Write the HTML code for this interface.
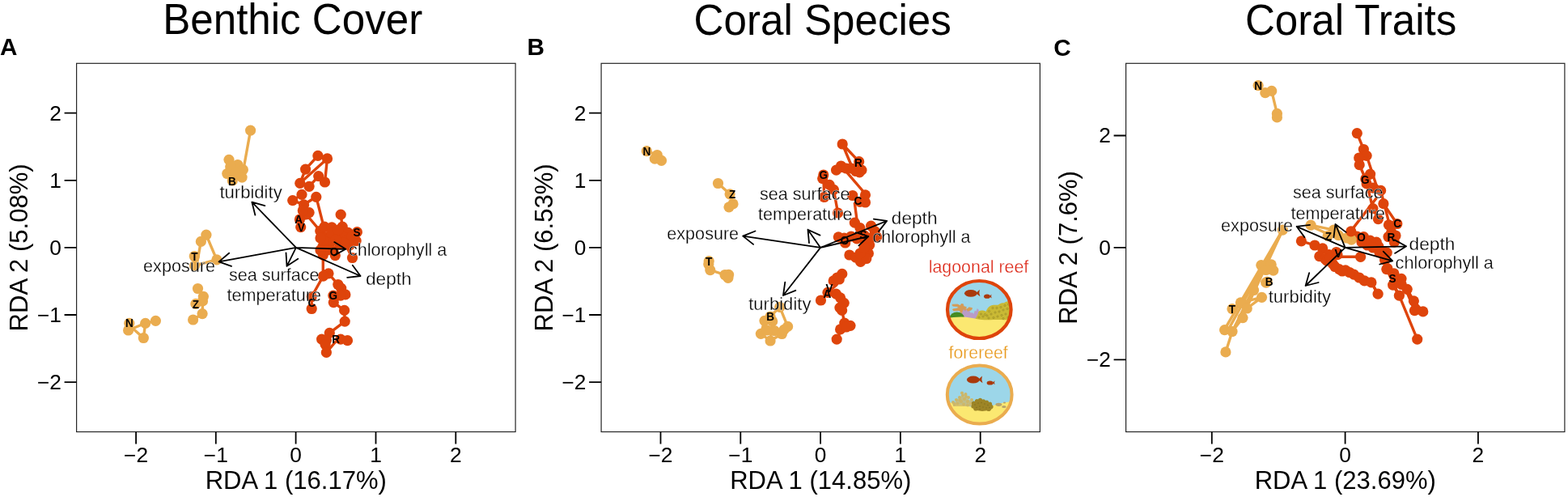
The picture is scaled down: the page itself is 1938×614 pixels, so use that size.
<!DOCTYPE html>
<html lang="en">
<head>
<meta charset="utf-8">
<title>RDA ordination: Benthic Cover, Coral Species, Coral Traits</title>
<style>
html,body{margin:0;padding:0;background:#fff;}
body{width:1938px;height:614px;overflow:hidden;}
svg{display:block;font-family:"Liberation Sans", sans-serif;}
.ttl{font-size:54.3px;fill:#000;text-anchor:middle;}
.pl{font-size:30px;font-weight:bold;fill:#000;}
.ax{font-size:32px;fill:#000;text-anchor:middle;}
.tk{font-size:25.3px;fill:#000;}
.lb{font-size:21.6px;fill:#000;stroke:#fff;stroke-width:0.3px;}
.st{font-size:14px;font-weight:bold;fill:#000;text-anchor:middle;}
.box{fill:none;stroke:#262626;stroke-width:1.2;}
.tick{stroke:#000;stroke-width:1.8;fill:none;}
.ar{stroke:#000;stroke-width:1.8;fill:none;stroke-linecap:round;stroke-linejoin:round;}
.lo{stroke:#DE440B;fill:none;stroke-width:3.4;stroke-linecap:round;stroke-linejoin:round;}
.ly{stroke:#EAAC4F;fill:none;stroke-width:3.4;stroke-linecap:round;stroke-linejoin:round;}
.po{fill:#DE440B;}
.py{fill:#EAAC4F;}
</style>
</head>
<body>
<svg width="1938" height="614" viewBox="0 0 1938 614">
<rect width="1938" height="614" fill="#fff"/>
<g>
<text class="ttl" transform="translate(361.7 42.3) scale(0.9416 1)">Benthic Cover</text>
<text class="pl" transform="translate(0.1 68.4) scale(0.99 1)">A</text>
<path class="lo" d="M370.8 226.3L377.6 209.1L392.9 192.4L404.5 195.9L370.8 226.3"/>
<path class="lo" d="M404.5 195.9L401.5 225L393.7 217.6L382.1 230.3L370.8 226.3"/>
<path class="lo" d="M373 240.4L361.7 247.6L375.6 252.8L390.8 243.3L399 275.6L401 280.2"/>
<path class="lo" d="M375.6 252.8L374.3 260L382.1 262.6L370.4 271L382 269L395.8 285.4"/>
<path class="lo" d="M421.2 265.2L423.2 280.2"/>
<path class="lo" d="M427.3 302.6L435.5 318.5"/>
<path class="lo" d="M399.3 305L399.3 340.4"/>
<path class="lo" d="M399.5 341.1L385.2 366.5L385.2 381.5"/>
<path class="lo" d="M406 337.8L417.8 351.5L426.9 363.9L412.3 373.6L425.6 383.4L426.2 397.1L407.3 411.3L397.6 419.1L403.4 435.4L415 422L429.5 420.7"/>
<circle class="po" cx="392.9" cy="192.4" r="6.6"/>
<circle class="po" cx="404.5" cy="195.9" r="6.6"/>
<circle class="po" cx="377.6" cy="209.1" r="6.6"/>
<circle class="po" cx="393.7" cy="217.6" r="6.6"/>
<circle class="po" cx="401.5" cy="225" r="6.6"/>
<circle class="po" cx="370.8" cy="226.3" r="6.6"/>
<circle class="po" cx="382.1" cy="230.3" r="6.6"/>
<circle class="po" cx="373" cy="240.4" r="6.6"/>
<circle class="po" cx="390.8" cy="243.3" r="6.6"/>
<circle class="po" cx="361.7" cy="247.6" r="6.6"/>
<circle class="po" cx="375.6" cy="252.8" r="6.6"/>
<circle class="po" cx="382.1" cy="262.6" r="6.6"/>
<circle class="po" cx="374.3" cy="260" r="6.6"/>
<circle class="po" cx="370.4" cy="271" r="6.6"/>
<circle class="po" cx="371.7" cy="280.6" r="6.6"/>
<circle class="po" cx="421.2" cy="265.2" r="6.6"/>
<circle class="po" cx="395.8" cy="285.4" r="6.6"/>
<circle class="po" cx="401" cy="280.2" r="6.6"/>
<circle class="po" cx="410.1" cy="280.8" r="6.6"/>
<circle class="po" cx="423.2" cy="280.2" r="6.6"/>
<circle class="po" cx="430.3" cy="287.3" r="6.6"/>
<circle class="po" cx="441.4" cy="286.7" r="6.6"/>
<circle class="po" cx="440.1" cy="297.5" r="6.6"/>
<circle class="po" cx="403" cy="292.5" r="6.6"/>
<circle class="po" cx="416" cy="290" r="6.6"/>
<circle class="po" cx="423.8" cy="292.5" r="6.6"/>
<circle class="po" cx="399" cy="304.3" r="6.6"/>
<circle class="po" cx="399.3" cy="315" r="6.6"/>
<circle class="po" cx="414.3" cy="315.6" r="6.6"/>
<circle class="po" cx="435.5" cy="318.5" r="6.6"/>
<circle class="po" cx="408" cy="300" r="6.6"/>
<circle class="po" cx="420" cy="302" r="6.6"/>
<circle class="po" cx="412" cy="310" r="6.6"/>
<circle class="po" cx="406" cy="337.8" r="6.6"/>
<circle class="po" cx="399.5" cy="341.1" r="6.6"/>
<circle class="po" cx="417.8" cy="351.5" r="6.6"/>
<circle class="po" cx="421.7" cy="356.1" r="6.6"/>
<circle class="po" cx="426.9" cy="363.9" r="6.6"/>
<circle class="po" cx="421" cy="365.2" r="6.6"/>
<circle class="po" cx="412.3" cy="373.6" r="6.6"/>
<circle class="po" cx="411.9" cy="365.2" r="6.6"/>
<circle class="po" cx="385.2" cy="366.5" r="6.6"/>
<circle class="po" cx="385.2" cy="381.5" r="6.6"/>
<circle class="po" cx="425.6" cy="383.4" r="6.6"/>
<circle class="po" cx="426.2" cy="397.1" r="6.6"/>
<circle class="po" cx="407.3" cy="411.3" r="6.6"/>
<circle class="po" cx="397.6" cy="419.1" r="6.6"/>
<circle class="po" cx="403.4" cy="420.4" r="6.6"/>
<circle class="po" cx="402.1" cy="425.6" r="6.6"/>
<circle class="po" cx="403.4" cy="435.4" r="6.6"/>
<circle class="po" cx="421" cy="419.1" r="6.6"/>
<circle class="po" cx="429.5" cy="420.7" r="6.6"/>
<circle class="po" cx="405" cy="296" r="6.6"/>
<circle class="po" cx="428" cy="297" r="6.6"/>
<circle class="po" cx="400" cy="298" r="6.6"/>
<circle class="po" cx="435" cy="292" r="6.6"/>
<circle class="po" cx="396" cy="294" r="6.6"/>
<circle class="po" cx="410" cy="288" r="6.6"/>
<circle class="po" cx="418" cy="284" r="6.6"/>
<circle class="po" cx="432" cy="303" r="6.6"/>
<circle class="po" cx="404" cy="309" r="6.6"/>
<circle class="po" cx="396" cy="309" r="6.6"/>
<circle class="po" cx="425" cy="300" r="6.6"/>
<circle class="po" cx="415" cy="296" r="6.6"/>
<path class="ly" d="M309.6 161.1L301.5 206"/>
<path class="ly" d="M248.4 298.4L243.5 325"/>
<path class="ly" d="M254.9 290.2L267.9 320.8L240.6 328"/>
<path class="ly" d="M244.5 356.5L251.4 366.3L250.5 371.9L250.1 387.6L238.6 395"/>
<path class="ly" d="M159.8 399.3L158.6 408L179.7 399.3L177.4 417.5L159.8 402"/>
<path class="ly" d="M179.7 399.3L192.4 396.3"/>
<circle class="py" cx="309.6" cy="161.1" r="6.6"/>
<circle class="py" cx="283" cy="197.3" r="6.6"/>
<circle class="py" cx="293.8" cy="203.5" r="6.6"/>
<circle class="py" cx="300.4" cy="209.7" r="6.6"/>
<circle class="py" cx="280.8" cy="214.5" r="6.6"/>
<circle class="py" cx="299.1" cy="219.1" r="6.6"/>
<circle class="py" cx="287.3" cy="223" r="6.6"/>
<circle class="py" cx="284.7" cy="206" r="6.6"/>
<circle class="py" cx="291.2" cy="213.9" r="6.6"/>
<circle class="py" cx="254.9" cy="290.2" r="6.6"/>
<circle class="py" cx="248.4" cy="298.4" r="6.6"/>
<circle class="py" cx="240.3" cy="316.5" r="6.6"/>
<circle class="py" cx="267.9" cy="320.8" r="6.6"/>
<circle class="py" cx="240.6" cy="328" r="6.6"/>
<circle class="py" cx="244.5" cy="356.5" r="6.6"/>
<circle class="py" cx="251.4" cy="366.3" r="6.6"/>
<circle class="py" cx="250.5" cy="371.9" r="6.6"/>
<circle class="py" cx="241.9" cy="375.4" r="6.6"/>
<circle class="py" cx="250.1" cy="387.6" r="6.6"/>
<circle class="py" cx="238.6" cy="395" r="6.6"/>
<circle class="py" cx="159.8" cy="399.3" r="6.6"/>
<circle class="py" cx="158.6" cy="408" r="6.6"/>
<circle class="py" cx="179.7" cy="399.3" r="6.6"/>
<circle class="py" cx="192.4" cy="396.3" r="6.6"/>
<circle class="py" cx="177.4" cy="417.5" r="6.6"/>
<text class="st" transform="translate(286.9 228.5) scale(0.97 1)">B</text>
<text class="st" transform="translate(369.1 275.8) scale(0.97 1)">A</text>
<text class="st" transform="translate(372.3 285.6) scale(0.97 1)">V</text>
<text class="st" transform="translate(441.1 291.5) scale(0.97 1)">S</text>
<text class="st" transform="translate(413 315.6) scale(0.97 1)">O</text>
<text class="st" transform="translate(240.5 321.7) scale(0.97 1)">T</text>
<text class="st" transform="translate(241.9 380.6) scale(0.97 1)">Z</text>
<text class="st" transform="translate(159.8 404.3) scale(0.97 1)">N</text>
<text class="st" transform="translate(385.4 379.1) scale(0.97 1)">C</text>
<text class="st" transform="translate(411.9 370) scale(0.97 1)">G</text>
<text class="st" transform="translate(415.1 423.9) scale(0.97 1)">R</text>
<path class="ar" d="M365.9 305.9L311.4 249.7M327.3 254.2L311.4 249.7L315.4 265.7M365.9 305.9L270.5 323.4M283.1 312.7L270.5 323.4L286 328.9M365.9 305.9L354.5 328.8M353.5 312.3L354.5 328.8L368.3 319.7M365.9 305.9L427.3 307.8M412.8 315.6L427.3 307.8L413.3 299.1M365.9 305.9L445.6 341M429.2 342.8L445.6 341L435.8 327.7"/>
<text class="lb" transform="translate(271.4 244.5) scale(1.022 1)">turbidity</text>
<text class="lb" transform="translate(177.1 335.8)">exposure</text>
<text class="lb" transform="translate(282.9 346.7)">sea surface</text>
<text class="lb" transform="translate(280.6 372.3)">temperature</text>
<text class="lb" transform="translate(431 315.6)">chlorophyll a</text>
<text class="lb" transform="translate(452 351.5) scale(1.05 1)">depth</text>
<rect class="box" x="94.6" y="78.3" width="542.5" height="455.2"/>
<path class="tick" d="M168.1 533.5V548.5M266.8 533.5V548.5M365.6 533.5V548.5M464.5 533.5V548.5M563.3 533.5V548.5M94.6 139.7H79.6M94.6 222.8H79.6M94.6 305.9H79.6M94.6 389H79.6M94.6 472.1H79.6"/>
<text class="tk" transform="translate(168.1 571) scale(1.04 1)" text-anchor="middle">−2</text>
<text class="tk" transform="translate(266.8 571) scale(1.04 1)" text-anchor="middle">−1</text>
<text class="tk" transform="translate(365.6 571) scale(1.04 1)" text-anchor="middle">0</text>
<text class="tk" transform="translate(464.5 571) scale(1.04 1)" text-anchor="middle">1</text>
<text class="tk" transform="translate(563.3 571) scale(1.04 1)" text-anchor="middle">2</text>
<text class="tk" transform="translate(76 148.5) scale(1.04 1)" text-anchor="end">2</text>
<text class="tk" transform="translate(76 231.6) scale(1.04 1)" text-anchor="end">1</text>
<text class="tk" transform="translate(76 314.7) scale(1.04 1)" text-anchor="end">0</text>
<text class="tk" transform="translate(76 397.8) scale(1.04 1)" text-anchor="end">−1</text>
<text class="tk" transform="translate(76 480.9) scale(1.04 1)" text-anchor="end">−2</text>
<text class="ax" transform="translate(365.8 604.4) scale(0.97 1)">RDA 1 (16.17%)</text>
<text class="ax" transform="translate(34 305.9) rotate(-90) scale(0.97 1)">RDA 2 (5.08%)</text>
</g>
<g>
<text class="ttl" transform="translate(1016.7 42.8) scale(0.9416 1)">Coral Species</text>
<text class="pl" transform="translate(651.6 68.4) scale(0.99 1)">B</text>
<path class="lo" d="M1061.7 199.7L1041.2 178L1052.5 205"/>
<path class="lo" d="M1033.6 210.2L1046 212.1L1069.5 239.5"/>
<path class="lo" d="M1017.8 216L1018.7 243.5"/>
<path class="lo" d="M1030.4 234.3L1035.6 263"/>
<path class="lo" d="M1056.4 251.3L1059.1 272.1"/>
<path class="lo" d="M1023 361.3L1034 352L1040.8 338.4"/>
<path class="lo" d="M1040.6 383.4L1043.8 399.1L1034.2 419.1"/>
<path class="lo" d="M1014.5 371L1023 361.3"/>
<circle class="po" cx="1041.2" cy="178" r="6.6"/>
<circle class="po" cx="1061.7" cy="199.7" r="6.6"/>
<circle class="po" cx="1039.5" cy="205" r="6.6"/>
<circle class="po" cx="1033.6" cy="210.2" r="6.6"/>
<circle class="po" cx="1052.5" cy="208.2" r="6.6"/>
<circle class="po" cx="1064.9" cy="210.2" r="6.6"/>
<circle class="po" cx="1062.3" cy="212.8" r="6.6"/>
<circle class="po" cx="1057.8" cy="211.5" r="6.6"/>
<circle class="po" cx="1046" cy="208" r="6.6"/>
<circle class="po" cx="1017.8" cy="216" r="6.6"/>
<circle class="po" cx="1016.7" cy="220.6" r="6.6"/>
<circle class="po" cx="1025.2" cy="228.4" r="6.6"/>
<circle class="po" cx="1030.4" cy="234.3" r="6.6"/>
<circle class="po" cx="1018.7" cy="243.5" r="6.6"/>
<circle class="po" cx="1035.6" cy="263" r="6.6"/>
<circle class="po" cx="1053.8" cy="241.5" r="6.6"/>
<circle class="po" cx="1069.5" cy="240.8" r="6.6"/>
<circle class="po" cx="1069.5" cy="250" r="6.6"/>
<circle class="po" cx="1063" cy="249.3" r="6.6"/>
<circle class="po" cx="1056.4" cy="275.2" r="6.6"/>
<circle class="po" cx="1063" cy="281.7" r="6.6"/>
<circle class="po" cx="1076.6" cy="279.1" r="6.6"/>
<circle class="po" cx="1081.2" cy="285.6" r="6.6"/>
<circle class="po" cx="1083.8" cy="292.8" r="6.6"/>
<circle class="po" cx="1036.3" cy="292.8" r="6.6"/>
<circle class="po" cx="1043.4" cy="294.1" r="6.6"/>
<circle class="po" cx="1044.7" cy="300" r="6.6"/>
<circle class="po" cx="1059" cy="294.8" r="6.6"/>
<circle class="po" cx="1074.7" cy="302.6" r="6.6"/>
<circle class="po" cx="1073.4" cy="313" r="6.6"/>
<circle class="po" cx="1049.9" cy="315" r="6.6"/>
<circle class="po" cx="1057.8" cy="318.2" r="6.6"/>
<circle class="po" cx="1063.6" cy="323.4" r="6.6"/>
<circle class="po" cx="1070.8" cy="319.5" r="6.6"/>
<circle class="po" cx="1063" cy="313" r="6.6"/>
<circle class="po" cx="1068.2" cy="290.8" r="6.6"/>
<circle class="po" cx="1069.5" cy="298.7" r="6.6"/>
<circle class="po" cx="1052" cy="292" r="6.6"/>
<circle class="po" cx="1076" cy="294" r="6.6"/>
<circle class="po" cx="1068" cy="306" r="6.6"/>
<circle class="po" cx="1040.8" cy="338.4" r="6.6"/>
<circle class="po" cx="1034.7" cy="343" r="6.6"/>
<circle class="po" cx="1030.2" cy="346.9" r="6.6"/>
<circle class="po" cx="1037.3" cy="345" r="6.6"/>
<circle class="po" cx="1023" cy="361.3" r="6.6"/>
<circle class="po" cx="1014.5" cy="371" r="6.6"/>
<circle class="po" cx="1033.4" cy="363.2" r="6.6"/>
<circle class="po" cx="1038.6" cy="367.8" r="6.6"/>
<circle class="po" cx="1043.2" cy="374.3" r="6.6"/>
<circle class="po" cx="1038" cy="380.2" r="6.6"/>
<circle class="po" cx="1040.6" cy="383.4" r="6.6"/>
<circle class="po" cx="1043.8" cy="399.1" r="6.6"/>
<circle class="po" cx="1051" cy="402.3" r="6.6"/>
<circle class="po" cx="1038.6" cy="406.9" r="6.6"/>
<circle class="po" cx="1046" cy="404" r="6.6"/>
<circle class="po" cx="1034.2" cy="419.1" r="6.6"/>
<path class="ly" d="M799.3 186.7L812.3 191.5L817.5 198.4"/>
<path class="ly" d="M887.5 226.5L902.1 239.8L906 251.9L901 255.8"/>
<path class="ly" d="M876.2 322.6L877.8 333.6L896 339.5L899.9 343.4"/>
<path class="ly" d="M952.1 391L963.8 379.3L973.6 403.4L966.4 412.5L952.1 421L940.4 412.3L945 396.3"/>
<path class="ly" d="M945 396.3L945 410"/>
<path class="ly" d="M954.7 396.9L952.1 421"/>
<circle class="py" cx="799.3" cy="186.7" r="6.6"/>
<circle class="py" cx="812.3" cy="191.5" r="6.6"/>
<circle class="py" cx="809.3" cy="196.1" r="6.6"/>
<circle class="py" cx="817.5" cy="198.4" r="6.6"/>
<circle class="py" cx="887.5" cy="226.5" r="6.6"/>
<circle class="py" cx="902.1" cy="239.8" r="6.6"/>
<circle class="py" cx="906" cy="251.9" r="6.6"/>
<circle class="py" cx="901" cy="255.8" r="6.6"/>
<circle class="py" cx="876.2" cy="322.6" r="6.6"/>
<circle class="py" cx="875.8" cy="326.5" r="6.6"/>
<circle class="py" cx="877.8" cy="333.6" r="6.6"/>
<circle class="py" cx="896" cy="339.5" r="6.6"/>
<circle class="py" cx="900.6" cy="339.3" r="6.6"/>
<circle class="py" cx="899.9" cy="343.4" r="6.6"/>
<circle class="py" cx="963.8" cy="379.3" r="6.6"/>
<circle class="py" cx="952.1" cy="391" r="6.6"/>
<circle class="py" cx="945" cy="396.3" r="6.6"/>
<circle class="py" cx="954.7" cy="396.9" r="6.6"/>
<circle class="py" cx="973.6" cy="403.4" r="6.6"/>
<circle class="py" cx="940.4" cy="412.3" r="6.6"/>
<circle class="py" cx="957.3" cy="408.6" r="6.6"/>
<circle class="py" cx="966.4" cy="412.5" r="6.6"/>
<circle class="py" cx="952.1" cy="421" r="6.6"/>
<circle class="py" cx="969" cy="407.3" r="6.6"/>
<circle class="py" cx="948" cy="408" r="6.6"/>
<text class="st" transform="translate(799.3 191.7) scale(0.97 1)">N</text>
<text class="st" transform="translate(905.1 244.5) scale(0.97 1)">Z</text>
<text class="st" transform="translate(876.2 328.2) scale(0.97 1)">T</text>
<text class="st" transform="translate(952.1 396) scale(0.97 1)">B</text>
<text class="st" transform="translate(1061 206) scale(0.97 1)">R</text>
<text class="st" transform="translate(1017.8 221) scale(0.97 1)">G</text>
<text class="st" transform="translate(1060.4 253) scale(0.97 1)">C</text>
<text class="st" transform="translate(1044.1 302.4) scale(0.97 1)">O</text>
<text class="st" transform="translate(1066.9 294.5) scale(0.97 1)">S</text>
<text class="st" transform="translate(1025 361.1) scale(0.97 1)">V</text>
<text class="st" transform="translate(1022.3 368.2) scale(0.97 1)">A</text>
<path class="ar" d="M1014.1 305.9L918.2 291.6M933.5 285.5L918.2 291.6L931.1 301.9M1014.1 305.9L998.5 283.7M1013.5 290.6L998.5 283.7L1000 300.1M1014.1 305.9L1096.2 272.9M1086 285.9L1096.2 272.9L1079.9 270.6M1014.1 305.9L1073.4 292M1061.4 303.3L1073.4 292L1057.6 287.2M1014.1 305.9L968 365M970.3 348.7L968 365L983.3 358.8"/>
<text class="lb" transform="translate(824.3 296)">exposure</text>
<text class="lb" transform="translate(939 246.7)">sea surface</text>
<text class="lb" transform="translate(937 272.1)">temperature</text>
<text class="lb" transform="translate(1101.8 277.3) scale(1.05 1)">depth</text>
<text class="lb" transform="translate(1078.4 300)">chlorophyll a</text>
<text class="lb" transform="translate(925.2 383.2) scale(1.022 1)">turbidity</text>
<text class="lb" transform="translate(1147.7 337.3) scale(0.99 1)" style="fill:#DC2414">lagoonal reef</text>
<text class="lb" transform="translate(1172.5 443.3) scale(0.985 1)" style="fill:#E8991C">forereef</text>
<defs><clipPath id="c1"><ellipse cx="1210.3" cy="382.5" rx="39.6" ry="35.8"/></clipPath><clipPath id="c2"><ellipse cx="1210.7" cy="487.5" rx="40.1" ry="36.2"/></clipPath></defs>
<g clip-path="url(#c1)"><rect x="1166" y="343" width="90" height="80" fill="#9CD6E9"/><path d="M1203.5 396C1204.5 390 1207.5 384 1213 383.6C1215.5 383.5 1217.5 384.2 1218.6 385C1220 380.5 1223.5 377 1228 376.7C1231 376.5 1232.5 377 1234 376.5C1236 374.5 1239 374 1241 374.2C1243 372.5 1247 371.8 1253 371.5V398H1203.5Z" fill="#C9B935"/><g fill="none" stroke="#A0922A" stroke-width="0.8"><circle cx="1212.5" cy="388" r="1.1"/><circle cx="1217.5" cy="388.5" r="1.1"/><circle cx="1222.5" cy="384.5" r="1.1"/><circle cx="1227" cy="380.5" r="1.1"/><circle cx="1232" cy="380.5" r="1.1"/><circle cx="1237" cy="379.5" r="1.1"/><circle cx="1242" cy="377.5" r="1.1"/><circle cx="1246.5" cy="376" r="1.1"/><circle cx="1210" cy="392" r="1.1"/><circle cx="1215" cy="391" r="1.1"/><circle cx="1220" cy="390" r="1.1"/><circle cx="1225" cy="388" r="1.1"/><circle cx="1230" cy="386" r="1.1"/><circle cx="1235" cy="385" r="1.1"/><circle cx="1240" cy="383" r="1.1"/><circle cx="1245" cy="381.5" r="1.1"/><circle cx="1222" cy="393" r="1.1"/><circle cx="1228" cy="392.5" r="1.1"/><circle cx="1233" cy="391" r="1.1"/><circle cx="1238" cy="389.5" r="1.1"/><circle cx="1243" cy="388" r="1.1"/><circle cx="1246" cy="392" r="1.1"/><circle cx="1240" cy="393.5" r="1.1"/></g><path d="M1187.5 386.5L1186 383.5L1178.5 384L1177.5 382L1185 380.5L1183 378.5L1177.5 378L1177 376.2L1183.5 376L1187 377.8L1188 375.6L1190.5 375.8L1191 378.5L1194.5 379.5L1193 382L1196 381.5L1197.5 379.8L1201.5 380.5L1201 382.5L1197 384.5L1192 384.5L1191.5 387.5Z" fill="#D59B55" stroke="#D59B55" stroke-width="0.8" stroke-linejoin="round"/><path d="M1189.5 393L1189.5 386L1191 382.5L1193 384.5L1194.5 382.5L1196 385.5L1198 384L1199.5 387L1202 386.5L1203.5 388.5L1205 384L1206.5 385L1208 381.5L1209.5 383L1208.5 387.5L1206 392.5L1204 395H1191Z" fill="#B99CC7" stroke="#B99CC7" stroke-width="0.6" stroke-linejoin="round"/><ellipse cx="1182.8" cy="392.2" rx="8.8" ry="6.6" fill="#458C22"/><path d="M1166 394C1172 392.8 1180 391.6 1188 391.6C1196 391.8 1202 393.2 1208 394.2C1214 395.4 1220 395.6 1228 395C1236 394.6 1244 395.4 1256 395.4V424H1166Z" fill="#FBE871"/><ellipse cx="1199.9" cy="362.3" rx="7.9" ry="4.4" fill="#A9390C"/><path d="M1206.1 362.3L1210.8 357.7Q1209.4 362.3 1211.4 366.3Z" fill="#A9390C"/><ellipse cx="1220" cy="366.2" rx="3.9" ry="2.6" fill="#A9390C"/><path d="M1223 366.2L1225.4 363.5Q1224.7 366.2 1225.7 368.5Z" fill="#A9390C"/></g><ellipse cx="1210.3" cy="382.5" rx="39.3" ry="35.5" fill="none" stroke="#DE440B" stroke-width="4.2"/>
<g clip-path="url(#c2)"><rect x="1166" y="448" width="90" height="80" fill="#9CD6E9"/><path d="M1166 496C1172 496.6 1180 498 1188 500C1196 502 1204 503.5 1212 503.5C1220 503.5 1226 501.5 1232 499.5C1238 497.8 1246 496.4 1256 495.6V530H1166Z" fill="#FBE871"/><g fill="#CCB669"><circle cx="1178" cy="497" r="2"/><circle cx="1182" cy="494" r="2"/><circle cx="1186" cy="491" r="2"/><circle cx="1190" cy="488.5" r="2"/><circle cx="1189" cy="485.5" r="2"/><circle cx="1193.5" cy="487" r="2"/><circle cx="1197" cy="491" r="2"/><circle cx="1201" cy="494" r="2"/><circle cx="1183.5" cy="498.5" r="2"/><circle cx="1188" cy="496" r="2"/><circle cx="1192" cy="493" r="2"/><circle cx="1196" cy="496" r="2"/><circle cx="1200" cy="498.5" r="2"/><circle cx="1191" cy="499.5" r="2"/><circle cx="1186.5" cy="494.5" r="2"/><circle cx="1194" cy="490" r="2"/><circle cx="1179.5" cy="499.5" r="2"/><circle cx="1196" cy="500.5" r="2"/><path d="M1178 499L1189 488.5L1201 496L1202 502H1178Z" opacity="0.75"/></g><g fill="#9D8526" transform="translate(0 1)"><circle cx="1203.5" cy="497" r="2.6"/><circle cx="1207.5" cy="494.5" r="2.6"/><circle cx="1211.5" cy="493.3" r="2.6"/><circle cx="1215.5" cy="494.8" r="2.6"/><circle cx="1219.5" cy="496" r="2.6"/><circle cx="1223.5" cy="498" r="2.6"/><circle cx="1225" cy="501.5" r="2.6"/><circle cx="1203" cy="501" r="2.6"/><circle cx="1206" cy="504" r="2.6"/><circle cx="1222" cy="504.5" r="2.6"/><path d="M1201 499L1207 494L1220 496L1227 500L1225 505.5L1214 507L1204 505.5Z"/></g><g fill="#84701F" transform="translate(0 1)"><circle cx="1205" cy="499" r="0.8"/><circle cx="1209" cy="497" r="0.8"/><circle cx="1213" cy="496.5" r="0.8"/><circle cx="1217" cy="498" r="0.8"/><circle cx="1221" cy="499.5" r="0.8"/><circle cx="1207" cy="502.5" r="0.8"/><circle cx="1211" cy="501" r="0.8"/><circle cx="1215" cy="502" r="0.8"/><circle cx="1219" cy="503" r="0.8"/><circle cx="1223" cy="502.5" r="0.8"/><circle cx="1211" cy="504.5" r="0.8"/></g><g fill="#B8A46C"><ellipse cx="1234.4" cy="499.8" rx="4" ry="2.1"/><ellipse cx="1241.5" cy="497.5" rx="1.6" ry="1.1"/><ellipse cx="1240.9" cy="502.4" rx="2.7" ry="1.5"/></g><ellipse cx="1202.9" cy="469.1" rx="8" ry="4.5" fill="#A9390C"/><path d="M1209.1 469.1L1213.9 464.4Q1212.5 469.1 1214.5 473.2Z" fill="#A9390C"/><ellipse cx="1223.7" cy="473" rx="4.1" ry="2.6" fill="#A9390C"/><path d="M1226.9 473L1229.4 470.3Q1228.6 473 1229.6 475.3Z" fill="#A9390C"/></g><ellipse cx="1210.7" cy="487.5" rx="39.9" ry="36" fill="none" stroke="#EAAC4F" stroke-width="4"/>
<rect class="box" x="743.1" y="78.3" width="542.3" height="455.2"/>
<path class="tick" d="M816.5 533.5V548.5M915.3 533.5V548.5M1014.1 533.5V548.5M1112.9 533.5V548.5M1211.7 533.5V548.5M743.1 139.7H728.1M743.1 222.8H728.1M743.1 305.9H728.1M743.1 389H728.1M743.1 472.1H728.1"/>
<text class="tk" transform="translate(816.5 571) scale(1.04 1)" text-anchor="middle">−2</text>
<text class="tk" transform="translate(915.3 571) scale(1.04 1)" text-anchor="middle">−1</text>
<text class="tk" transform="translate(1014.1 571) scale(1.04 1)" text-anchor="middle">0</text>
<text class="tk" transform="translate(1112.9 571) scale(1.04 1)" text-anchor="middle">1</text>
<text class="tk" transform="translate(1211.7 571) scale(1.04 1)" text-anchor="middle">2</text>
<text class="tk" transform="translate(724.5 148.5) scale(1.04 1)" text-anchor="end">2</text>
<text class="tk" transform="translate(724.5 231.6) scale(1.04 1)" text-anchor="end">1</text>
<text class="tk" transform="translate(724.5 314.7) scale(1.04 1)" text-anchor="end">0</text>
<text class="tk" transform="translate(724.5 397.8) scale(1.04 1)" text-anchor="end">−1</text>
<text class="tk" transform="translate(724.5 480.9) scale(1.04 1)" text-anchor="end">−2</text>
<text class="ax" transform="translate(1014.3 604.4) scale(0.97 1)">RDA 1 (14.85%)</text>
<text class="ax" transform="translate(682.5 305.9) rotate(-90) scale(0.97 1)">RDA 2 (6.53%)</text>
</g>
<g>
<text class="ttl" transform="translate(1669.6 42.8) scale(0.9416 1)">Coral Traits</text>
<text class="pl" transform="translate(1302.2 68.5) scale(0.99 1)">C</text>
<path class="lo" d="M1630.8 316.7L1647.4 326.1L1655.2 332.6L1663 333.9L1673.4 339.1L1686.4 346.9L1694.9 348.9L1703.1 363.2"/>
<path class="lo" d="M1677.3 164.6L1685.4 184.5L1689.1 192.3L1700.8 228L1706.6 235.4L1719.7 286.9"/>
<path class="lo" d="M1680.2 203.7L1687.8 221L1696.9 257.6L1703.4 270.6"/>
<path class="lo" d="M1700.8 245.2L1669.5 285.6"/>
<path class="lo" d="M1709.9 251.7L1726.8 276.5"/>
<path class="lo" d="M1608.4 297.8L1625 303"/>
<path class="lo" d="M1653 317.3L1681.6 317.3"/>
<path class="lo" d="M1694.9 348.9L1703.1 363.2"/>
<path class="lo" d="M1729.4 365.2L1751.7 419.1"/>
<path class="lo" d="M1732 344.3L1748.4 383.6"/>
<path class="lo" d="M1721.6 352.1L1729.4 365.2"/>
<path class="lo" d="M1713.8 332.6L1729.4 365.2"/>
<path class="lo" d="M1722.9 337.8L1739.2 357.3L1747.4 371.8L1758.8 384.9"/>
<circle class="po" cx="1677.3" cy="164.6" r="6.6"/>
<circle class="po" cx="1685.4" cy="184.5" r="6.6"/>
<circle class="po" cx="1689.1" cy="192.3" r="6.6"/>
<circle class="po" cx="1679.7" cy="195" r="6.6"/>
<circle class="po" cx="1680.2" cy="203.7" r="6.6"/>
<circle class="po" cx="1687.8" cy="221" r="6.6"/>
<circle class="po" cx="1693.6" cy="215.1" r="6.6"/>
<circle class="po" cx="1689.1" cy="226.9" r="6.6"/>
<circle class="po" cx="1706.6" cy="235.4" r="6.6"/>
<circle class="po" cx="1696.9" cy="232.1" r="6.6"/>
<circle class="po" cx="1709.9" cy="251.7" r="6.6"/>
<circle class="po" cx="1696.9" cy="257.6" r="6.6"/>
<circle class="po" cx="1703.4" cy="270.6" r="6.6"/>
<circle class="po" cx="1716.4" cy="277.8" r="6.6"/>
<circle class="po" cx="1726.8" cy="276.5" r="6.6"/>
<circle class="po" cx="1719.7" cy="286.9" r="6.6"/>
<circle class="po" cx="1722" cy="292.6" r="6.6"/>
<circle class="po" cx="1723.3" cy="299.1" r="6.6"/>
<circle class="po" cx="1608.4" cy="297.8" r="6.6"/>
<circle class="po" cx="1625" cy="303" r="6.6"/>
<circle class="po" cx="1634.7" cy="306.9" r="6.6"/>
<circle class="po" cx="1630.8" cy="316.7" r="6.6"/>
<circle class="po" cx="1642.5" cy="314.7" r="6.6"/>
<circle class="po" cx="1651.7" cy="311.5" r="6.6"/>
<circle class="po" cx="1653" cy="314.7" r="6.6"/>
<circle class="po" cx="1681.6" cy="317.3" r="6.6"/>
<circle class="po" cx="1669.3" cy="290" r="6.6"/>
<circle class="po" cx="1685.5" cy="292.6" r="6.6"/>
<circle class="po" cx="1693.4" cy="297.1" r="6.6"/>
<circle class="po" cx="1701.2" cy="299.1" r="6.6"/>
<circle class="po" cx="1710.3" cy="310.8" r="6.6"/>
<circle class="po" cx="1703.8" cy="304.3" r="6.6"/>
<circle class="po" cx="1714.2" cy="312.1" r="6.6"/>
<circle class="po" cx="1711.6" cy="321.2" r="6.6"/>
<circle class="po" cx="1714.9" cy="331.7" r="6.6"/>
<circle class="po" cx="1677" cy="292" r="6.6"/>
<circle class="po" cx="1690" cy="303" r="6.6"/>
<circle class="po" cx="1697" cy="306" r="6.6"/>
<circle class="po" cx="1705" cy="312" r="6.6"/>
<circle class="po" cx="1683" cy="299" r="6.6"/>
<circle class="po" cx="1647.4" cy="326.1" r="6.6"/>
<circle class="po" cx="1655.2" cy="332.6" r="6.6"/>
<circle class="po" cx="1663" cy="333.9" r="6.6"/>
<circle class="po" cx="1673.4" cy="339.1" r="6.6"/>
<circle class="po" cx="1686.4" cy="346.9" r="6.6"/>
<circle class="po" cx="1694.9" cy="348.9" r="6.6"/>
<circle class="po" cx="1703.1" cy="363.2" r="6.6"/>
<circle class="po" cx="1638" cy="320" r="6.6"/>
<circle class="po" cx="1713.8" cy="332.6" r="6.6"/>
<circle class="po" cx="1722.9" cy="337.8" r="6.6"/>
<circle class="po" cx="1732" cy="344.3" r="6.6"/>
<circle class="po" cx="1721.6" cy="352.1" r="6.6"/>
<circle class="po" cx="1729.4" cy="365.2" r="6.6"/>
<circle class="po" cx="1739.2" cy="357.3" r="6.6"/>
<circle class="po" cx="1747.4" cy="371.8" r="6.6"/>
<circle class="po" cx="1748.4" cy="383.6" r="6.6"/>
<circle class="po" cx="1758.8" cy="384.9" r="6.6"/>
<circle class="po" cx="1751.7" cy="419.1" r="6.6"/>
<circle class="po" cx="1732.1" cy="351.3" r="6.6"/>
<circle class="po" cx="1726" cy="346" r="6.6"/>
<circle class="po" cx="1725" cy="291" r="6.6"/>
<circle class="po" cx="1716" cy="292.5" r="6.6"/>
<circle class="po" cx="1640" cy="322" r="6.6"/>
<circle class="po" cx="1668" cy="336.5" r="6.6"/>
<circle class="po" cx="1680" cy="343" r="6.6"/>
<circle class="po" cx="1650" cy="329.5" r="6.6"/>
<circle class="po" cx="1659" cy="335" r="6.6"/>
<circle class="po" cx="1644" cy="318.5" r="6.6"/>
<path class="ly" d="M1571.7 112.4L1578.4 140.4"/>
<path class="ly" d="M1620.1 278.2L1648.4 284.1L1669.3 295.2"/>
<path class="ly" d="M1620.1 279.5L1641.2 289L1654.3 290.6L1669.3 295.2"/>
<path class="ly" d="M1585.3 284.1L1523 409.5L1514.9 434.9"/>
<path class="ly" d="M1585.3 284.1L1540.5 381L1536 392.6L1523 409.5"/>
<path class="ly" d="M1585.3 284.1L1513.2 407.6"/>
<path class="ly" d="M1585.3 284.1L1517.5 408.5"/>
<path class="ly" d="M1585.3 284.1L1533 390"/>
<path class="ly" d="M1533.4 373.8L1559.5 367.3L1541.2 381"/>
<path class="ly" d="M1523 381.7L1533.4 373.8"/>
<circle class="py" cx="1555.1" cy="105.6" r="6.6"/>
<circle class="py" cx="1563.8" cy="114.7" r="6.6"/>
<circle class="py" cx="1571.7" cy="112.4" r="6.6"/>
<circle class="py" cx="1578.4" cy="140.4" r="6.6"/>
<circle class="py" cx="1578.4" cy="144.9" r="6.6"/>
<circle class="py" cx="1620.1" cy="278.2" r="6.6"/>
<circle class="py" cx="1648.4" cy="284.1" r="6.6"/>
<circle class="py" cx="1641.2" cy="291.3" r="6.6"/>
<circle class="py" cx="1654.3" cy="290.6" r="6.6"/>
<circle class="py" cx="1670.3" cy="296.2" r="6.6"/>
<circle class="py" cx="1585.3" cy="284.1" r="6.6"/>
<circle class="py" cx="1558.8" cy="327.6" r="6.6"/>
<circle class="py" cx="1571.2" cy="326.9" r="6.6"/>
<circle class="py" cx="1573.8" cy="334.1" r="6.6"/>
<circle class="py" cx="1564.7" cy="333.5" r="6.6"/>
<circle class="py" cx="1564.7" cy="349.1" r="6.6"/>
<circle class="py" cx="1559.5" cy="367.3" r="6.6"/>
<circle class="py" cx="1533.4" cy="373.8" r="6.6"/>
<circle class="py" cx="1523" cy="381.7" r="6.6"/>
<circle class="py" cx="1541.2" cy="381" r="6.6"/>
<circle class="py" cx="1536" cy="392.6" r="6.6"/>
<circle class="py" cx="1513.6" cy="407.6" r="6.6"/>
<circle class="py" cx="1523" cy="409.5" r="6.6"/>
<circle class="py" cx="1514.9" cy="434.9" r="6.6"/>
<circle class="py" cx="1664.5" cy="294" r="6.6"/>
<circle class="py" cx="1549.5" cy="358.5" r="6.6"/>
<circle class="py" cx="1566.1" cy="348.1" r="6.6"/>
<path class="lo" d="M1672.5 282L1669.8 285.8"/>
<circle class="po" cx="1669.8" cy="285.8" r="6.6"/>
<text class="st" transform="translate(1555.1 110.6) scale(0.97 1)">N</text>
<text class="st" transform="translate(1687.4 226.5) scale(0.97 1)">G</text>
<text class="st" transform="translate(1727.1 281.4) scale(0.97 1)">C</text>
<text class="st" transform="translate(1641.9 296.9) scale(0.97 1)">Z</text>
<text class="st" transform="translate(1682.5 298.2) scale(0.97 1)">O</text>
<text class="st" transform="translate(1719.4 297.6) scale(0.97 1)">R</text>
<text class="st" transform="translate(1654 318.4) scale(0.97 1)">V</text>
<text class="st" transform="translate(1721 349.3) scale(0.97 1)">S</text>
<text class="st" transform="translate(1568.6 353.4) scale(0.97 1)">B</text>
<text class="st" transform="translate(1523 386.8) scale(0.97 1)">T</text>
<path class="ar" d="M1662.6 305.9L1602.6 279.8M1619 277.9L1602.6 279.8L1612.4 293.1M1662.6 305.9L1650.5 276.9M1663.6 286.9L1650.5 276.9L1648.4 293.3M1662.6 305.9L1738.1 304.3M1724 312.9L1738.1 304.3L1723.6 296.4M1662.6 305.9L1721.2 322.4M1705.2 326.5L1721.2 322.4L1709.7 310.6M1662.6 305.9L1613.6 353M1618.2 337.1L1613.6 353L1629.6 349"/>
<text class="lb" transform="translate(1509.1 286.1)">exposure</text>
<text class="lb" transform="translate(1597.9 245.2)">sea surface</text>
<text class="lb" transform="translate(1595.6 270.6)">temperature</text>
<text class="lb" transform="translate(1741.6 308.5) scale(1.05 1)">depth</text>
<text class="lb" transform="translate(1724.6 331.9)">chlorophyll a</text>
<text class="lb" transform="translate(1567.7 373.8) scale(1.022 1)">turbidity</text>
<rect class="box" x="1391.6" y="78.3" width="542.3" height="455.2"/>
<path class="tick" d="M1497.8 533.5V548.5M1662.6 533.5V548.5M1826.9 533.5V548.5M1391.6 167.5H1376.6M1391.6 305.9H1376.6M1391.6 444.3H1376.6"/>
<text class="tk" transform="translate(1497.8 571) scale(1.04 1)" text-anchor="middle">−2</text>
<text class="tk" transform="translate(1662.6 571) scale(1.04 1)" text-anchor="middle">0</text>
<text class="tk" transform="translate(1826.9 571) scale(1.04 1)" text-anchor="middle">2</text>
<text class="tk" transform="translate(1373 176.3) scale(1.04 1)" text-anchor="end">2</text>
<text class="tk" transform="translate(1373 314.7) scale(1.04 1)" text-anchor="end">0</text>
<text class="tk" transform="translate(1373 453.1) scale(1.04 1)" text-anchor="end">−2</text>
<text class="ax" transform="translate(1662.8 604.4) scale(0.97 1)">RDA 1 (23.69%)</text>
<text class="ax" transform="translate(1331 305.9) rotate(-90) scale(0.97 1)">RDA 2 (7.6%)</text>
</g>
</svg>
</body>
</html>
